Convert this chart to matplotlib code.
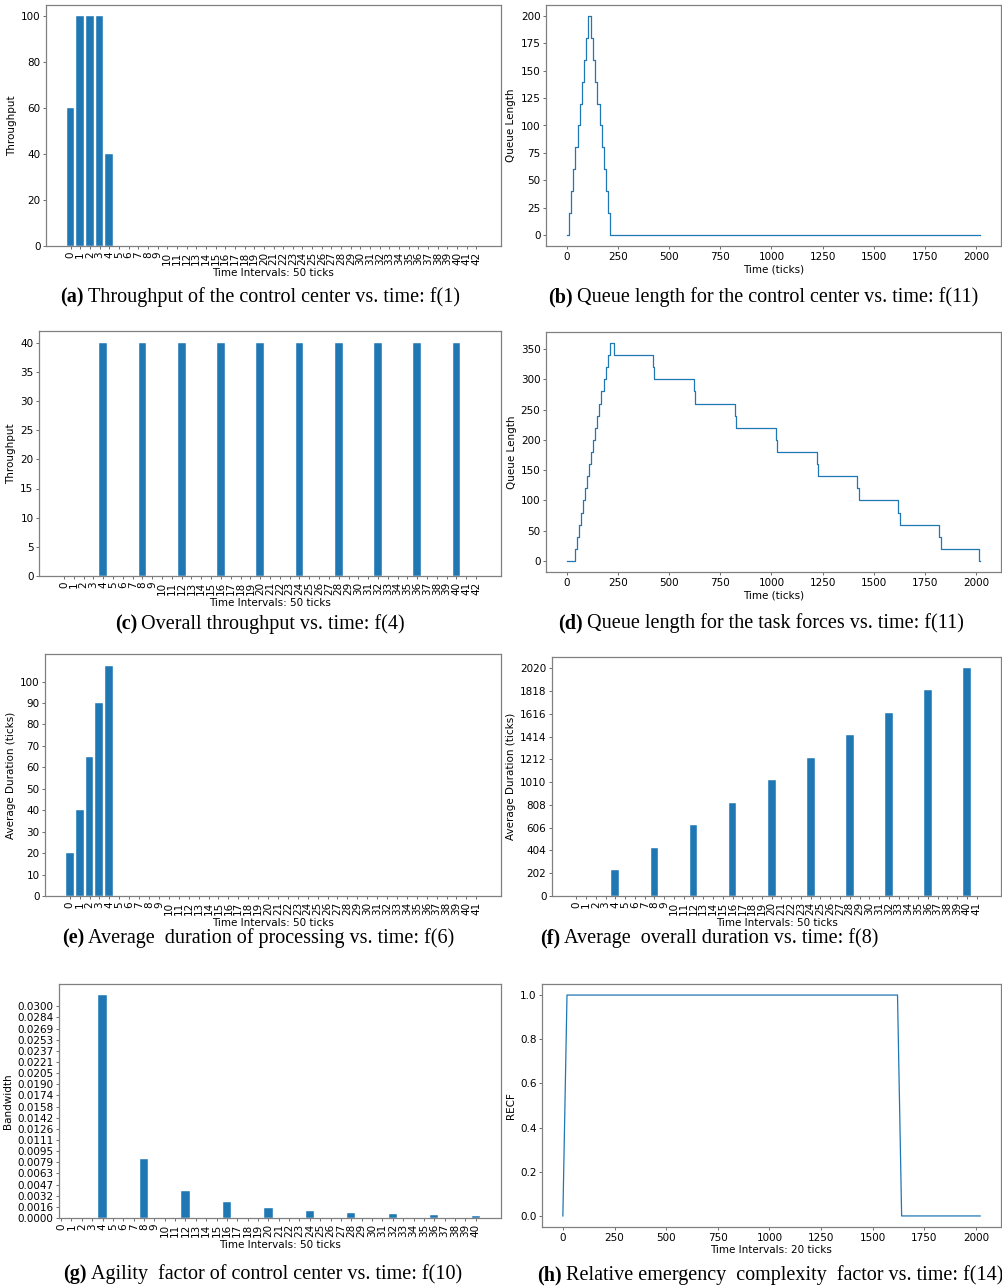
import numpy as np
import matplotlib
matplotlib.use("Agg")
import matplotlib.pyplot as plt
from matplotlib.text import Annotation

W, H = 1003, 1288

# (a) throughput of the control center, per 50-tick interval
cc_throughput = [60, 100, 100, 100, 40] + [0] * 38

# (b) queue length for the control center (step breakpoints)
cc_queue_t = [0, 12, 22, 33, 43, 54, 64, 75, 85, 96, 106,
              119, 129, 140, 150, 161, 171, 182, 192, 203, 213, 2020]
cc_queue_v = [0, 20, 40, 60, 80, 100, 120, 140, 160, 180, 200,
              180, 160, 140, 120, 100, 80, 60, 40, 20, 0, 0]

# (c) overall throughput, per 50-tick interval
overall_throughput = [0, 0, 0, 0, 40, 0, 0, 0, 40, 0, 0, 0, 40, 0, 0, 0, 40,
                      0, 0, 0, 40, 0, 0, 0, 40, 0, 0, 0, 40, 0, 0, 0, 40,
                      0, 0, 0, 40, 0, 0, 0, 40, 0, 0]

# (d) queue length for the task forces (step breakpoints)
tf_queue_t = [0, 40, 50, 60, 70, 80, 90, 100, 110, 120, 130, 140, 150, 160,
              170, 180, 190, 200, 210, 232, 420, 428, 620, 628, 820, 828,
              1020, 1028, 1220, 1228, 1420, 1428, 1620, 1628, 1820, 1828,
              2012, 2020]
tf_queue_v = [0, 20, 40, 60, 80, 100, 120, 140, 160, 180, 200, 220, 240, 260,
              280, 300, 320, 340, 360, 340, 320, 300, 280, 260, 240, 220,
              200, 180, 160, 140, 120, 100, 80, 60, 40, 20,
              0, 0]

# (e) average duration of processing, per 50-tick interval
proc_duration = [20, 40, 65, 90, 107.5] + [0] * 37

# (f) average overall duration, per 50-tick interval
overall_duration = [0, 0, 0, 0, 228, 0, 0, 0, 428, 0, 0, 0, 628, 0, 0, 0, 828,
                    0, 0, 0, 1026, 0, 0, 0, 1226, 0, 0, 0, 1428, 0, 0, 0, 1628,
                    0, 0, 0, 1828, 0, 0, 0, 2020, 0]

# (g) agility factor (bandwidth) of control center, per 50-tick interval
agility = [0, 0, 0, 0, 0.0316, 0, 0, 0, 0.0084, 0, 0, 0, 0.0038, 0, 0, 0,
           0.0022, 0, 0, 0, 0.00137, 0, 0, 0, 0.00095, 0, 0, 0, 0.0007,
           0, 0, 0, 0.00052, 0, 0, 0, 0.0004, 0, 0, 0, 0.00033]

# (h) relative emergency complexity factor, sampled every 20 ticks
recf_t = [0, 20, 1620, 1640, 2020]
recf_v = [0, 1, 1, 0, 0]

captions = [
    ("(a)", "Throughput of the control center vs. time: f(1)"),
    ("(b)", "Queue length for the control center vs. time: f(11)"),
    ("(c)", "Overall throughput vs. time: f(4)"),
    ("(d)", "Queue length for the task forces vs. time: f(11)"),
    ("(e)", "Average  duration of processing vs. time: f(6)"),
    ("(f)", "Average  overall duration vs. time: f(8)"),
    ("(g)", "Agility  factor of control center vs. time: f(10)"),
    ("(h)", "Relative emergency  complexity  factor vs. time: f(14)"),
]
# left x and centre y of each caption (pixels)
caption_pos = [(60, 297), (548, 297), (115, 624), (558, 623),
               (62, 938), (540, 938), (63, 1274), (537, 1275)]

BLUE = '#1f77b4'
FS = 7.5
CAP_FS = 14.5

fig = plt.figure(figsize=(W / 100, H / 100), dpi=100)


def add_ax(l, t, r, b):
    ax = fig.add_axes([l / W, 1 - b / H, (r - l) / W, (b - t) / H])
    for s in ax.spines.values():
        s.set_color('#808080')
        s.set_linewidth(0.9)
    ax.tick_params(labelsize=FS, length=2.5, width=0.6, color='#555555', pad=1.5)
    return ax


def bar_panel(ax, values, ylabel):
    idx = np.arange(len(values))
    ax.bar(idx, values, width=0.8, color=BLUE, edgecolor='white', linewidth=0.3)
    ax.set_xticks(idx)
    ax.set_xticklabels([str(i) for i in idx], rotation=90, fontsize=FS)
    ax.set_xlabel('Time Intervals: 50 ticks', fontsize=FS, labelpad=2)
    ax.set_ylabel(ylabel, fontsize=FS, labelpad=3)


# (a)
ax = add_ax(46, 5, 501, 246)
bar_panel(ax, cc_throughput, 'Throughput')
ax.set_yticks([0, 20, 40, 60, 80, 100])

# (b)
ax = add_ax(546, 5, 1001, 246)
ax.step(cc_queue_t, cc_queue_v, where='post', color=BLUE, lw=0.9)
ax.set_xticks([0, 250, 500, 750, 1000, 1250, 1500, 1750, 2000])
ax.set_xlabel('Time (ticks)', fontsize=FS, labelpad=2)
ax.set_ylabel('Queue Length', fontsize=FS, labelpad=3)

# (c)
ax = add_ax(39, 331, 501, 576)
bar_panel(ax, overall_throughput, 'Throughput')

# (d)
ax = add_ax(546, 332, 1001, 572)
ax.step(tf_queue_t, tf_queue_v, where='post', color=BLUE, lw=0.9)
ax.set_xticks([0, 250, 500, 750, 1000, 1250, 1500, 1750, 2000])
ax.set_xlabel('Time (ticks)', fontsize=FS, labelpad=2)
ax.set_ylabel('Queue Length', fontsize=FS, labelpad=3)

# (e)
ax = add_ax(45, 654, 501, 896)
bar_panel(ax, proc_duration, 'Average Duration (ticks)')
ax.set_yticks(np.arange(0, 101, 10))

# (f)
ax = add_ax(552, 657, 1001, 896)
bar_panel(ax, overall_duration, 'Average Duration (ticks)')
ax.set_yticks(np.linspace(0, max(overall_duration), 11))
ax.set_yticklabels([f'{v:.0f}' for v in np.linspace(0, max(overall_duration), 11)])

# (g)
ax = add_ax(59, 984, 501, 1218)
bar_panel(ax, agility, 'Bandwidth')
gt = np.linspace(0, max(agility), 20, endpoint=False)
ax.set_yticks(gt)
ax.set_yticklabels([f'{v:.4f}' for v in gt])
ax.set_xlim(left=-0.2)

# (h)
ax = add_ax(542, 984, 1001, 1227)
ax.plot(recf_t, recf_v, color=BLUE, lw=0.9)
ax.set_xticks([0, 250, 500, 750, 1000, 1250, 1500, 1750, 2000])
ax.set_xlabel('Time Intervals: 20 ticks', fontsize=FS, labelpad=2)
ax.set_ylabel('RECF', fontsize=FS, labelpad=3)

# captions
for (tag, text), (cx, cy) in zip(captions, caption_pos):
    t1 = fig.text(cx / W, 1 - cy / H, tag, fontsize=CAP_FS, fontweight='bold',
                  family='Liberation Serif', ha='left', va='center')
    fig.add_artist(Annotation(text, xy=(1, 0.5), xycoords=t1, xytext=(3, 0),
                              textcoords='offset points', ha='left', va='center',
                              fontsize=CAP_FS, family='Liberation Serif'))

fig.savefig('out.png', dpi=100)
